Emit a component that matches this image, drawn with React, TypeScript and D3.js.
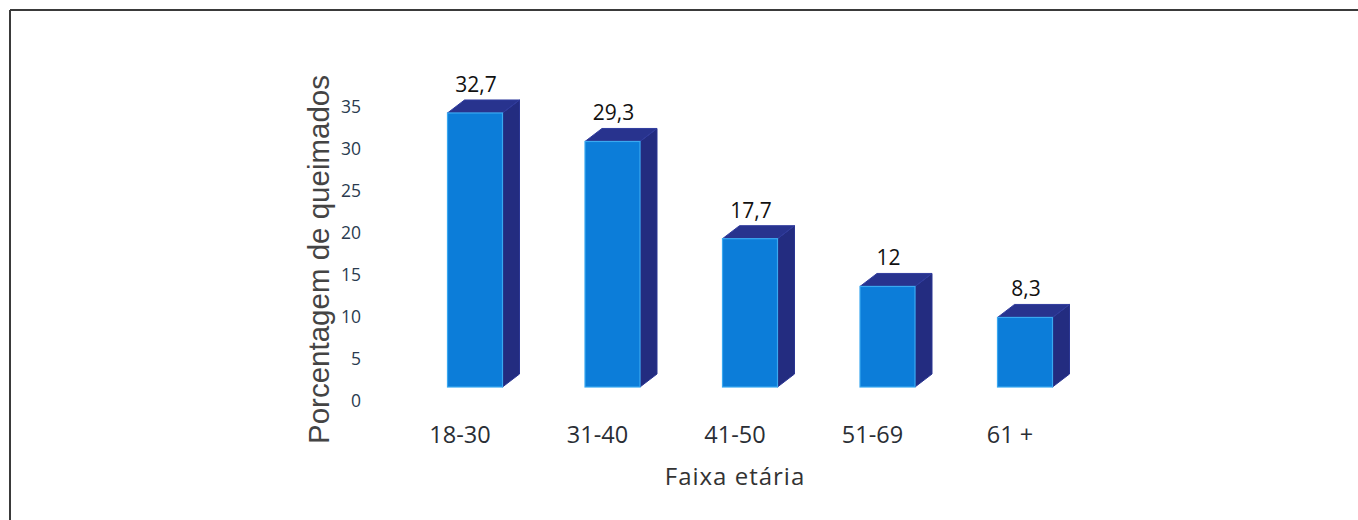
import React from "react";
import * as d3 from "d3";

const categories: string[] = ["18-30", "31-40", "41-50", "51-69", "61 +"];
const values: number[] = [32.7, 29.3, 17.7, 12, 8.3];
const valueLabels: string[] = ["32,7", "29,3", "17,7", "12", "8,3"];
const yTicks: number[] = [0, 5, 10, 15, 20, 25, 30, 35];

const W = 1358;
const H = 520;

export default function App() {
  const x = d3.scalePoint<string>().domain(categories).range([475, 1025]);
  const y = d3.scaleLinear().domain([0, 35]).range([387, 93.7]);
  const barW = 55;
  const dx = 17;
  const dy = -13;
  const base = y(0);

  return (
    <svg
      width={W}
      height={H}
      style={{ position: "absolute", left: 0, top: 0, background: "#fff" }}
    >
      <rect x={0} y={0} width={W} height={H} fill="#fff" />
      {/* frame */}
      <line x1={10} y1={10} x2={W} y2={10} stroke="#3a3a3a" strokeWidth={2} />
      <line x1={10} y1={10} x2={10} y2={H} stroke="#3a3a3a" strokeWidth={2} />

      {/* y tick labels */}
      {yTicks.map((t) => (
        <text
          key={t}
          x={361}
          y={y(t) + 12.5}
          textAnchor="end"
          dominantBaseline="central"
          fontFamily="'Open Sans', sans-serif"
          fontSize={17.5}
          fill="#2a3b4f"
        >
          {t}
        </text>
      ))}

      {/* bars */}
      {categories.map((c, i) => {
        const cx = x(c) as number;
        const x0 = cx - barW / 2;
        const x1 = cx + barW / 2;
        const top = y(values[i]);
        const topFace = `M${x0},${top} L${x0 + dx},${top + dy} L${x1 + dx},${top + dy} L${x1},${top} Z`;
        const sideFace = `M${x1},${top} L${x1 + dx},${top + dy} L${x1 + dx},${base + dy} L${x1},${base} Z`;
        return (
          <g key={c}>
            <path d={sideFace} fill="#232c80" stroke="#2a3592" strokeWidth={1} />
            <path d={topFace} fill="#28338e" stroke="#303c9e" strokeWidth={1} />
            <rect
              x={x0}
              y={top}
              width={barW}
              height={base - top}
              fill="#0c7dd9"
              stroke="#3aa8f0"
              strokeWidth={1.2}
            />
            <text
              x={cx + 1}
              y={top - 21}
              textAnchor="middle"
              fontFamily="'Open Sans', sans-serif"
              fontSize={21}
              fill="#111"
            >
              {valueLabels[i]}
            </text>
            <text
              x={cx - 15}
              y={443}
              textAnchor="middle"
              fontFamily="'Open Sans', sans-serif"
              fontSize={23.5}
              fill="#2a2e35"
            >
              {c}
            </text>
          </g>
        );
      })}

      {/* axis titles */}
      <text
        transform={`translate(329,259.5) rotate(-90)`}
        textAnchor="middle"
        fontFamily="'Liberation Sans', Arial, sans-serif"
        fontSize={29.5}
        fill="#444"
      >
        Porcentagem de queimados
      </text>
      <text
        x={735}
        y={485}
        textAnchor="middle"
        fontFamily="'Open Sans', sans-serif"
        fontSize={24}
        letterSpacing={1}
        fill="#333"
      >
        Faixa etária
      </text>
    </svg>
  );
}
